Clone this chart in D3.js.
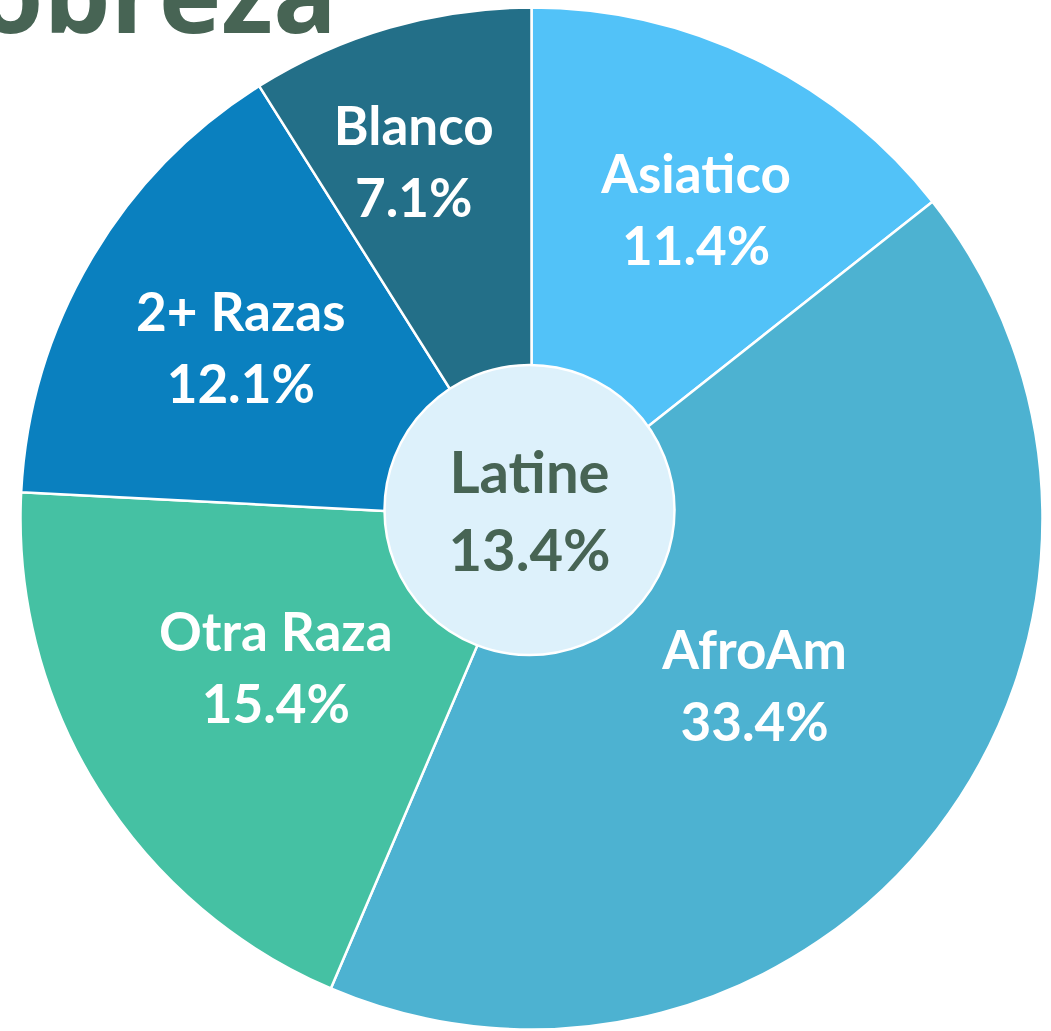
<!DOCTYPE html>
<html>
<head>
<meta charset="utf-8">
<script src="https://cdn.jsdelivr.net/npm/d3@7"></script>
<style>
  html, body { margin: 0; padding: 0; background: #ffffff; }
  svg { display: block; }
</style>
</head>
<body>
<svg id="chart" width="1051" height="1031"></svg>
<script>
// ---- Data ----
const title = "Pobreza";
const categories = ["Asiatico", "AfroAm", "Otra Raza", "2+ Razas", "Blanco"];
const values = [11.4, 33.4, 15.4, 12.1, 7.1];
const centerCategory = "Latine";
const centerValue = 13.4;

// ---- Styling / layout config ----
const colors = ["#52C2F8", "#4DB2D1", "#45C1A3", "#0A80BF", "#236F88"];
const labelRadius = [350, 279, 296, 337, 375];
const labelAngleShift = [2.2, -0.5, 1.7, 0.0, -2.2]; // degrees
const darkGreen = "#476454";

const W = 1051, H = 1031;
const cx = 531.5, cy = 518.5, R = 511;
const svg = d3.select("#chart");

// Title (partially cut off at top, as in the reference)
svg.append("text")
  .attr("x", 337).attr("y", 33)
  .attr("text-anchor", "end")
  .attr("font-family", "'Open Sans', sans-serif")
  .attr("font-weight", 700)
  .attr("font-size", 106)
  .attr("fill", darkGreen)
  .text(title);

const g = svg.append("g").attr("transform", `translate(${cx},${cy})`);

const pie = d3.pie().sort(null).value(d => d);
const arcs = pie(values);
const arc = d3.arc().innerRadius(0).outerRadius(R);

g.selectAll("path.slice")
  .data(arcs)
  .join("path")
  .attr("class", "slice")
  .attr("d", arc)
  .attr("fill", (d, i) => colors[i])
  .attr("stroke", "#ffffff")
  .attr("stroke-width", 2.5)
  .attr("stroke-linejoin", "round");

// Labels
const labels = g.selectAll("text.lbl")
  .data(arcs)
  .join("text")
  .attr("class", "lbl")
  .attr("text-anchor", "middle")
  .attr("font-family", "Lato, sans-serif")
  .attr("font-weight", 700)
  .attr("font-size", 53)
  .attr("fill", "#ffffff")
  .attr("transform", (d, i) => {
    const a = (d.startAngle + d.endAngle) / 2 + labelAngleShift[i] * Math.PI / 180;
    const r = labelRadius[i];
    return `translate(${r * Math.sin(a)},${-r * Math.cos(a)})`;
  });
labels.append("tspan").attr("x", 0).attr("dy", -17).text((d, i) => categories[i]);
labels.append("tspan").attr("x", 0).attr("dy", 72).text((d, i) => d3.format(".1f")(values[i]) + "%");

// Center circle
const cg = svg.append("g").attr("transform", `translate(${cx - 2},${cy - 8.5})`);
cg.append("circle")
  .attr("r", 145)
  .attr("fill", "#DDF1FB")
  .attr("stroke", "#ffffff")
  .attr("stroke-width", 2.5);
const ct = cg.append("text")
  .attr("text-anchor", "middle")
  .attr("font-family", "Lato, sans-serif")
  .attr("font-weight", 700)
  .attr("font-size", 58)
  .attr("fill", darkGreen)
  .attr("y", 1.5);
ct.append("tspan").attr("x", 0).attr("dy", -19).text(centerCategory);
ct.append("tspan").attr("x", 0).attr("dy", 78).text(d3.format(".1f")(centerValue) + "%");
</script>
</body>
</html>
